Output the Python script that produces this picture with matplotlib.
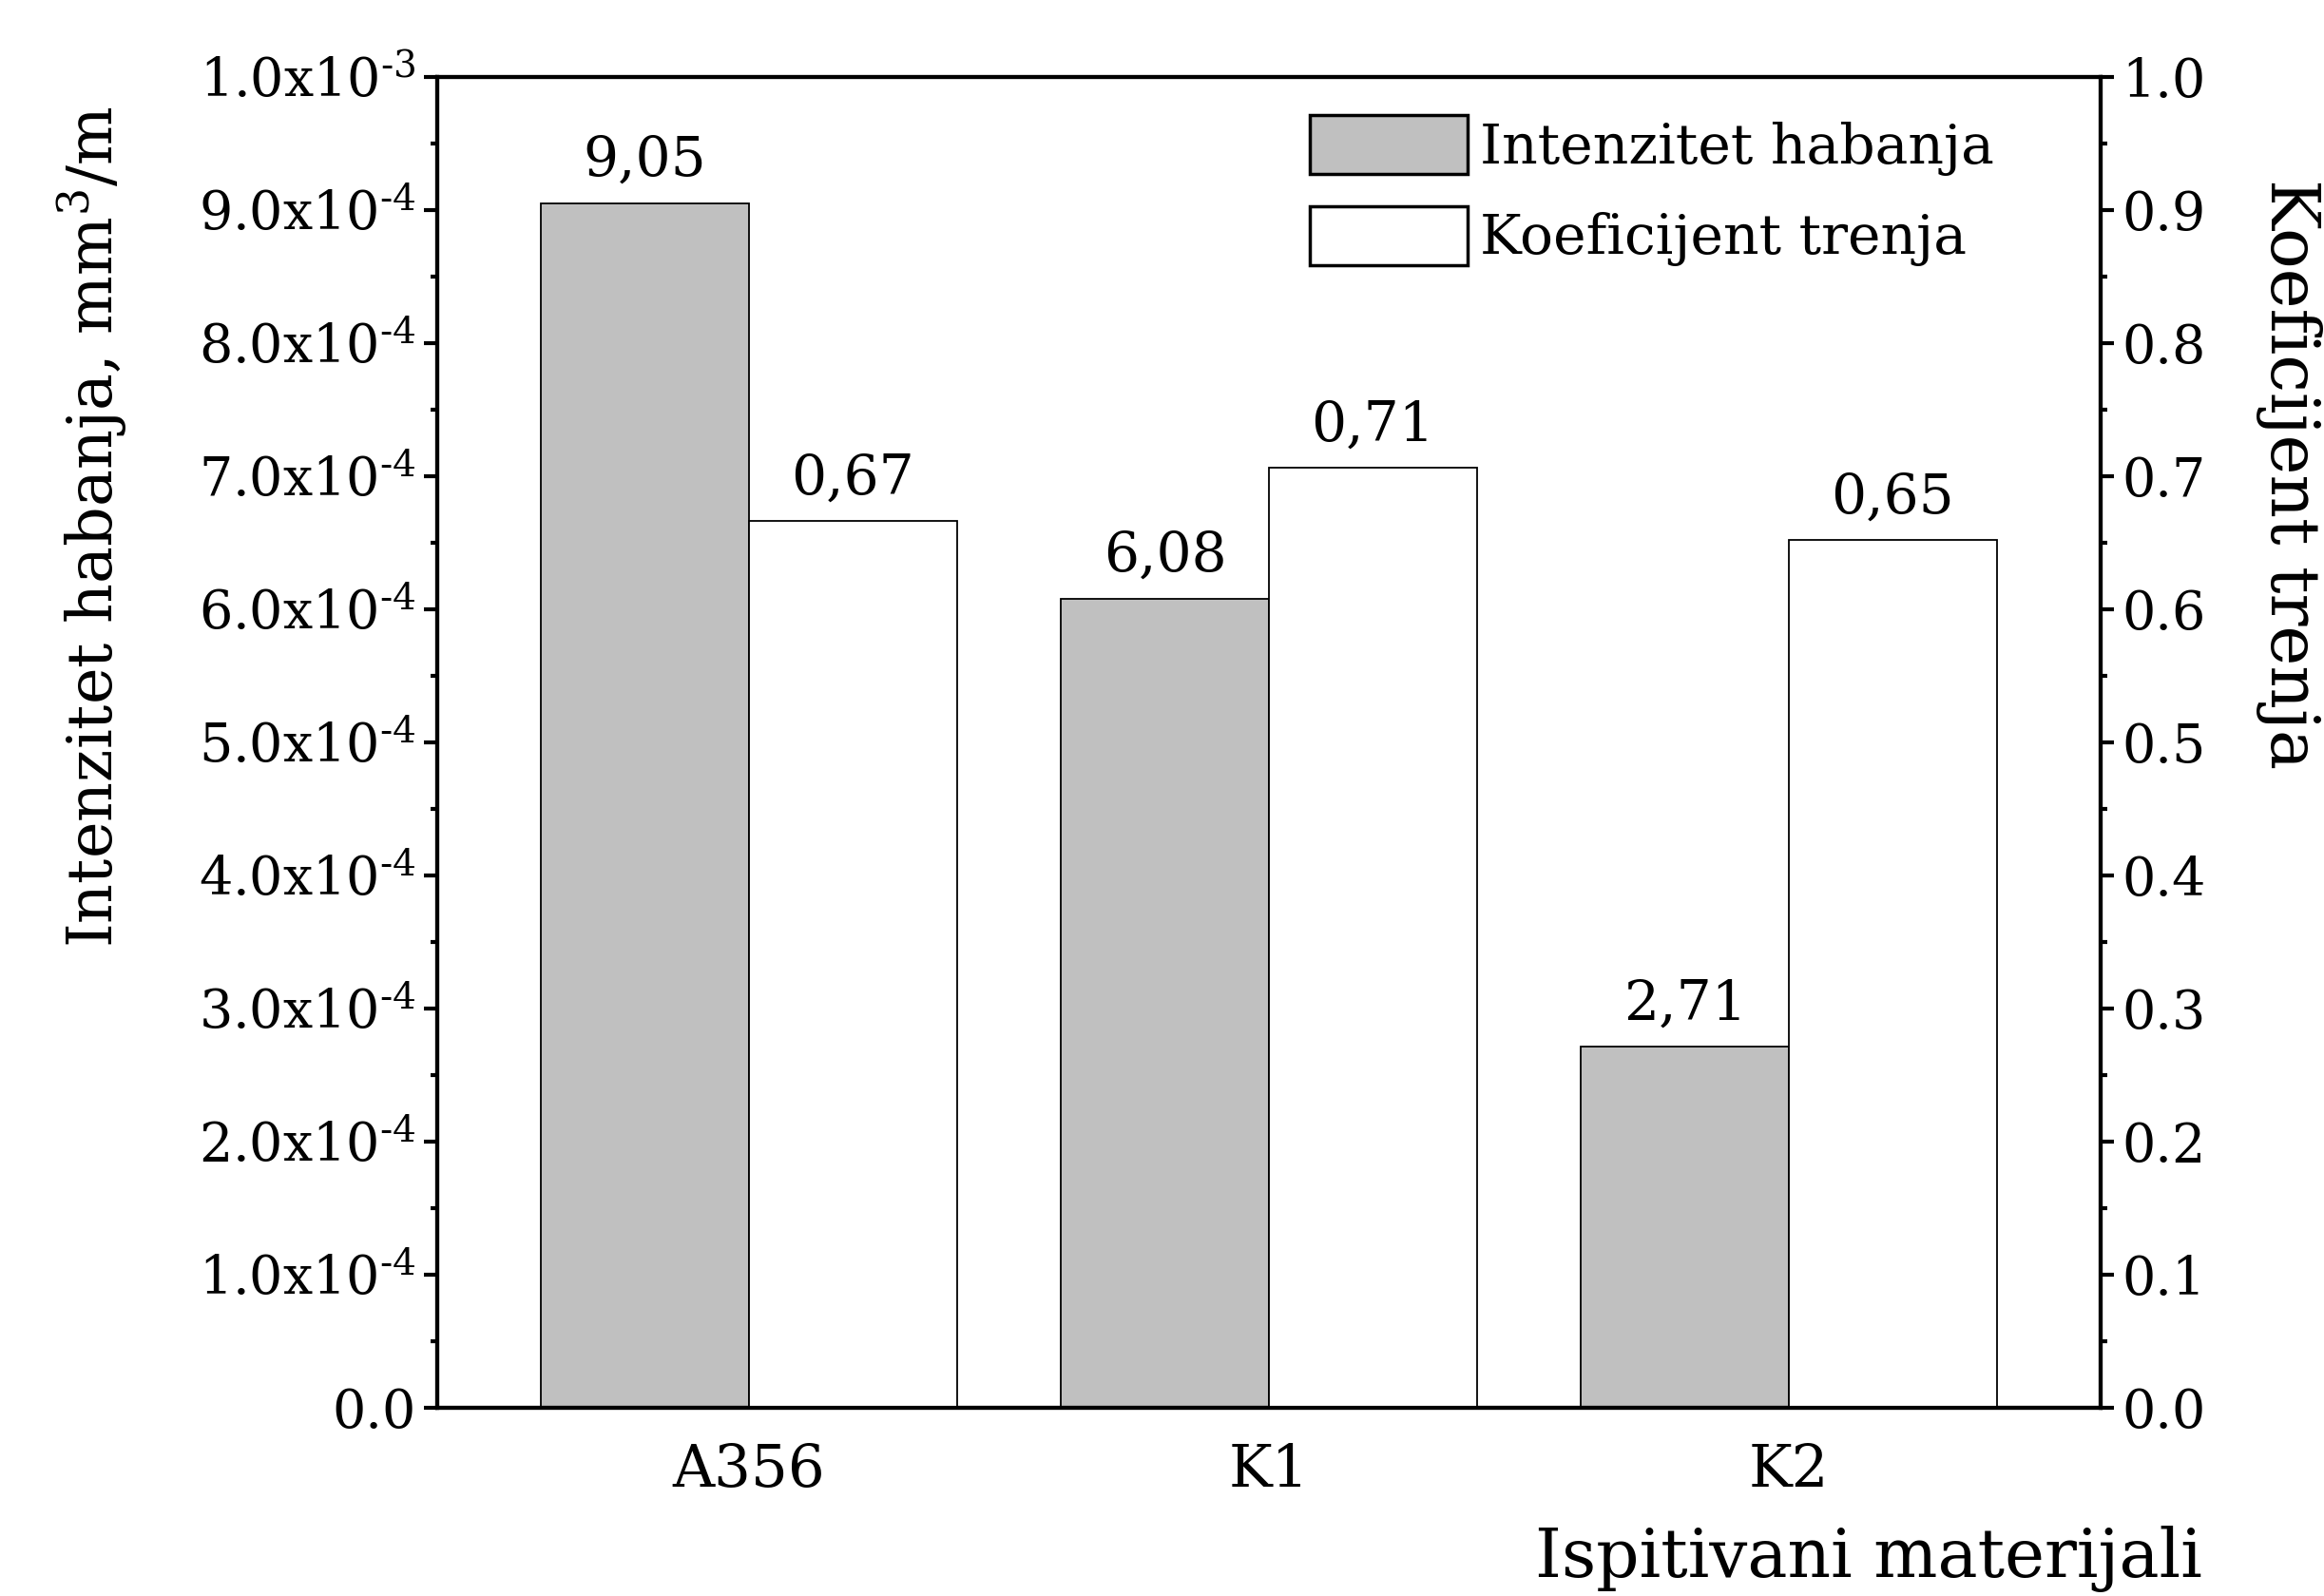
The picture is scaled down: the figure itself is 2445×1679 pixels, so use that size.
import matplotlib
matplotlib.use("Agg")
import matplotlib.pyplot as plt
import numpy as np
from matplotlib.patches import Patch
from matplotlib.ticker import MultipleLocator, FuncFormatter

materials = ["A356", "K1", "K2"]
wear_rate = [9.05e-4, 6.08e-4, 2.71e-4]
friction = [0.666, 0.706, 0.652]

FONTSIZE = 40
plt.rcParams["font.family"] = "DejaVu Serif"
plt.rcParams["mathtext.fontset"] = "custom"
plt.rcParams["mathtext.rm"] = "DejaVu Serif"


def sci_fmt(v, pos):
    if abs(v) < 1e-12:
        return "0.0"
    exp = int(np.floor(np.log10(abs(v)) + 1e-9))
    mant = v / 10 ** exp
    return r"$\mathregular{%.1fx10^{\text{-}%d}}$" % (mant, abs(exp))


def main():
    fig = plt.figure(figsize=(24.45, 16.79), dpi=100)
    ax = fig.add_axes([0.188, 0.118, 0.716, 0.834])
    ax2 = ax.twinx()

    x = np.arange(len(materials))
    w = 0.4
    b1 = ax.bar(x - w / 2, wear_rate, w, color="#c0c0c0", edgecolor="black", linewidth=1.3)
    b2 = ax2.bar(x + w / 2, friction, w, color="white", edgecolor="black", linewidth=1.3)

    ax.set_xlim(-0.6, 2.6)
    ax.set_ylim(0, 1e-3)
    ax2.set_ylim(0, 1.0)
    ax.set_xticks(x)
    ax.set_xticklabels(materials, fontsize=44)

    ax.yaxis.set_major_locator(MultipleLocator(1e-4))
    ax.yaxis.set_minor_locator(MultipleLocator(5e-5))
    ax.yaxis.set_major_formatter(FuncFormatter(sci_fmt))
    ax2.yaxis.set_major_locator(MultipleLocator(0.1))
    ax2.yaxis.set_minor_locator(MultipleLocator(0.05))
    ax2.yaxis.set_major_formatter(FuncFormatter(lambda v, p: f"{v:.1f}"))

    for a in (ax, ax2):
        for s in a.spines.values():
            s.set_linewidth(3)
        a.tick_params(axis="y", which="major", length=10, width=3, labelsize=FONTSIZE, pad=6)
        a.tick_params(axis="y", which="minor", length=5, width=3)
    ax.tick_params(axis="x", length=0, pad=26)

    for rect, v in zip(b1, wear_rate):
        ax.annotate(f"{v * 1e4:.2f}".replace(".", ","),
                    (rect.get_x() + rect.get_width() / 2, rect.get_height()),
                    xytext=(0, 12), textcoords="offset points",
                    ha="center", va="bottom", fontsize=42)
    for rect, v in zip(b2, friction):
        ax2.annotate(f"{v:.2f}".replace(".", ","),
                     (rect.get_x() + rect.get_width() / 2, rect.get_height()),
                     xytext=(0, 12), textcoords="offset points",
                     ha="center", va="bottom", fontsize=42)

    fig.text(0.0397, 0.670, r"Intenzitet habanja, mm$\mathregular{^3}$/m",
             rotation=90, ha="center", va="center", fontsize=47)
    fig.text(0.985, 0.703, "Koeficijent trenja",
             rotation=270, ha="center", va="center", fontsize=51)
    fig.text(0.804, 0.023, "Ispitivani materijali",
             ha="center", va="center", fontsize=51)

    handles = [Patch(facecolor="#c0c0c0", edgecolor="black", linewidth=2.5),
               Patch(facecolor="white", edgecolor="black", linewidth=2.5)]
    ax2.legend(handles, ["Intenzitet habanja", "Koeficijent trenja"],
               loc="upper right", bbox_to_anchor=(0.959, 1.0),
               frameon=False, fontsize=42,
               handlelength=2.85, handleheight=1.25, handletextpad=0.22,
               labelspacing=0.55, borderpad=0.2)

    fig.savefig("out.png", dpi=100)


if __name__ == "__main__":
    main()
